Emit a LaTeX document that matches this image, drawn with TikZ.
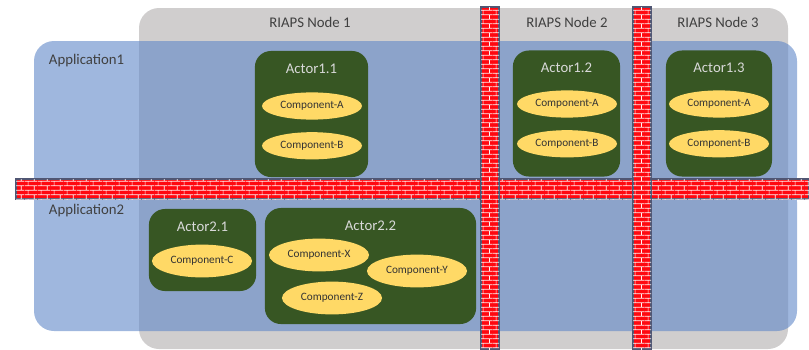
\documentclass[tikz,border=0pt]{standalone}
\usepackage{fontspec}
\setmainfont{Carlito}
\usetikzlibrary{shapes.geometric, positioning, patterns}

\definecolor{nodegray}{RGB}{208,206,206}
\definecolor{appblue}{RGB}{95,135,200}
\definecolor{actorgreen}{RGB}{55,86,35}
\definecolor{compgold}{RGB}{255,217,102}
\definecolor{wallred}{RGB}{255,8,16}
\definecolor{wallrim}{RGB}{80,86,115}
\definecolor{labelgray}{RGB}{64,64,64}

% mortar lines of the firewalls
\pgfdeclarepatternformonly{brickwall}{\pgfpointorigin}{\pgfqpoint{9pt}{6.4pt}}{\pgfqpoint{9pt}{6.4pt}}{
  \pgfsetlinewidth{0.45pt}
  \pgfpathmoveto{\pgfqpoint{0pt}{1.6pt}}\pgfpathlineto{\pgfqpoint{9pt}{1.6pt}}
  \pgfpathmoveto{\pgfqpoint{0pt}{4.8pt}}\pgfpathlineto{\pgfqpoint{9pt}{4.8pt}}
  \pgfpathmoveto{\pgfqpoint{2.25pt}{1.6pt}}\pgfpathlineto{\pgfqpoint{2.25pt}{4.8pt}}
  \pgfpathmoveto{\pgfqpoint{6.75pt}{4.8pt}}\pgfpathlineto{\pgfqpoint{6.75pt}{6.4pt}}
  \pgfpathmoveto{\pgfqpoint{6.75pt}{0pt}}\pgfpathlineto{\pgfqpoint{6.75pt}{1.6pt}}
  \pgfusepath{stroke}
}

\begin{document}
\begin{tikzpicture}[
    x=0.025cm, y=-0.025cm,
    riapsnode/.style={fill=nodegray, rounded corners=0.5cm},
    app/.style={fill=appblue, fill opacity=0.6, rounded corners=0.5cm},
    firewall/.style={draw=wallrim, line width=0.8pt, fill=wallred, postaction={pattern=brickwall, pattern color=white!95!red}},
    actor/.style={rectangle, fill=actorgreen, rounded corners=0.4cm, inner sep=0pt},
    actortitle/.style={text=white!85!black, font=\fontsize{10.5}{12}\selectfont},
    comp/.style={ellipse, fill=compgold, inner sep=0pt, minimum width=2.5cm, minimum height=0.68cm, text=black!80, font=\fontsize{8}{9}\selectfont},
    tag/.style={text=labelgray, font=\fontsize{10.5}{12}\selectfont}
]
\useasboundingbox (0,0) rectangle (809,349);

% RIAPS nodes (grey) and applications (blue)
\fill[riapsnode] (139,8) rectangle (788,349);
\fill[app] (34,41) rectangle (797,196);
\fill[app] (34,182) rectangle (797,331);

\node[tag] (node1) at (310,22) {RIAPS Node 1};
\node[tag] (node2) at (567,22) {RIAPS Node 2};
\node[tag] (node3) at (718,22) {RIAPS Node 3};
\node[tag, anchor=west] (app1) at (44,61) {Application1};
\node[tag, anchor=west] (app2) at (44,211) {Application2};

% Application1 actors
\node[actor, minimum width=2.83cm, minimum height=3.15cm] (act11) at (311.5,114) {};
\node[actortitle] (act11t) at ([yshift=-0.45cm]act11.north) {Actor1.1};
\node[comp] (c11a) at (312,106) {Component-A};
\node[comp, below=0.3cm of c11a] (c11b) {Component-B};

\node[actor, minimum width=2.68cm, minimum height=3.15cm] (act12) at (566.5,113.5) {};
\node[actortitle] (act12t) at ([yshift=-0.45cm]act12.north) {Actor1.2};
\node[comp] (c12a) at (567,104) {Component-A};
\node[comp, below=0.3cm of c12a] (c12b) {Component-B};

\node[actor, minimum width=2.65cm, minimum height=3.15cm] (act13) at (719,113.5) {};
\node[actortitle] (act13t) at ([yshift=-0.45cm]act13.north) {Actor1.3};
\node[comp] (c13a) at (719,104) {Component-A};
\node[comp, below=0.3cm of c13a] (c13b) {Component-B};

% Application2 actors
\node[actor, minimum width=2.68cm, minimum height=2.05cm] (act21) at (202.5,250) {};
\node[actortitle] (act21t) at ([yshift=-0.45cm]act21.north) {Actor2.1};
\node[comp, minimum height=0.82cm] (c21c) at (202,261) {Component-C};

\node[actor, minimum width=5.28cm, minimum height=2.9cm] (act22) at (370.5,266) {};
\node[actortitle] (act22t) at ([yshift=-0.45cm]act22.north) {Actor2.2};
\node[comp, minimum height=0.82cm] (c22x) at (319,255) {Component-X};
\node[comp, minimum height=0.82cm] (c22y) at (417,271) {Component-Y};
\node[comp, minimum height=0.82cm] (c22z) at (332,298) {Component-Z};

% firewalls
\draw[firewall] (16,179) rectangle (809,199);
\draw[firewall] (481,7) rectangle (499,349);
\draw[firewall] (633,7) rectangle (651,349);

\end{tikzpicture}
\end{document}
